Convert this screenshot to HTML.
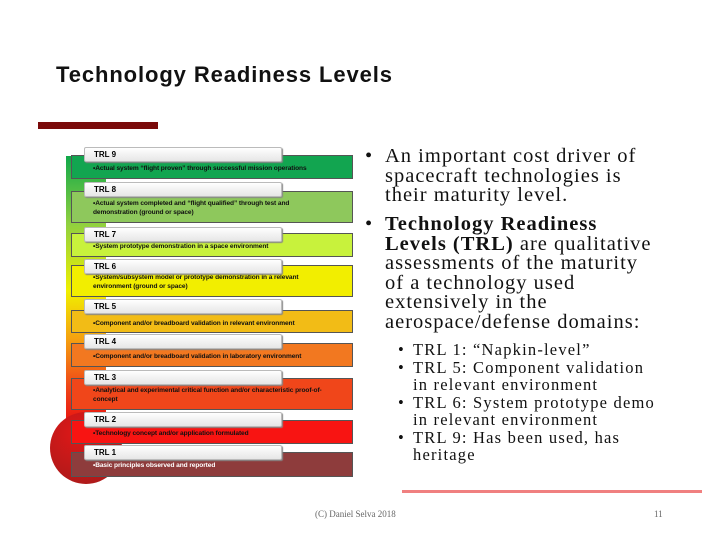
<!DOCTYPE html>
<html><head><meta charset="utf-8"><style>
body{margin:0;width:720px;height:540px;background:#fff;position:relative;overflow:hidden;font-family:"Liberation Sans",sans-serif}
.abs{position:absolute}
.box{position:absolute;left:71px;width:282px;border:1px solid #555;box-sizing:border-box;font-size:6.6px;font-weight:bold;color:#111;padding:0 0 0 21px;line-height:8.5px;letter-spacing:-0.1px}
.tab{position:absolute;left:84px;width:198px;height:15px;background:linear-gradient(#fff,#e6e6e6);border:1px solid #bbb;box-sizing:border-box;border-radius:2px;font-size:8px;font-weight:bold;padding-left:9px;line-height:13px;box-shadow:1px 1px 1px #888}
.r{font-family:"Liberation Serif",serif;font-size:20.5px;line-height:19.5px;color:#111;white-space:nowrap;letter-spacing:1px;padding-left:20px}
.s{font-family:"Liberation Serif",serif;font-size:16.5px;line-height:17.5px;color:#111;white-space:nowrap;letter-spacing:1.2px;padding-left:15px}
.b{position:absolute;left:0;top:0;letter-spacing:0}
</style></head><body>
<div class="abs" style="left:56px;top:62px;font-size:22px;letter-spacing:0.9px;font-weight:bold;color:#111">Technology Readiness Levels</div>
<div class="abs" style="left:38px;top:122px;width:120px;height:7px;background:#7a0a0a"></div>
<div class="abs" style="left:66px;top:156px;width:40px;height:270px;background:linear-gradient(#10a84a,#8fd040 25%,#f0f000 50%,#f5a010 68%,#f04818 85%,#e81010)"></div>
<div class="abs" style="left:50px;top:412px;width:72px;height:72px;border-radius:50%;background:radial-gradient(circle at 40% 30%,#e01818,#a01a1a)"></div>
<div id="levels"></div>
<div class="abs r" style="left:365px;top:147px"><span class="b">•</span>An important cost driver of<br>spacecraft technologies is<br>their maturity level.</div>
<div class="abs r" style="left:365px;top:215px"><span class="b">•</span><b>Technology Readiness</b><br><b>Levels (TRL)</b> are qualitative<br>assessments of the maturity<br>of a technology used<br>extensively in the<br>aerospace/defense domains:</div>
<div class="abs s" style="left:398px;top:341px"><span class="b">•</span>TRL 1: “Napkin-level”</div>
<div class="abs s" style="left:398px;top:358.5px"><span class="b">•</span>TRL 5: Component validation<br>in relevant environment</div>
<div class="abs s" style="left:398px;top:393.5px"><span class="b">•</span>TRL 6: System prototype demo<br>in relevant environment</div>
<div class="abs s" style="left:398px;top:428.5px"><span class="b">•</span>TRL 9: Has been used, has<br>heritage</div>
<div class="abs" style="left:402px;top:490px;width:300px;height:3px;background:#f08080"></div>
<div class="abs" style="left:315px;top:509px;font-family:'Liberation Serif',serif;font-size:9px;color:#666">(C) Daniel Selva 2018</div>
<div class="abs" style="left:654px;top:509px;font-family:'Liberation Serif',serif;font-size:9px;color:#666">11</div>
<script>
const labels=["TRL 9","TRL 8","TRL 7","TRL 6","TRL 5","TRL 4","TRL 3","TRL 2","TRL 1"];
const descs=["•Actual system “flight proven” through successful mission operations","•Actual system completed and “flight qualified” through test and demonstration (ground or space)","•System prototype demonstration in a space environment","•System/subsystem model or prototype demonstration in a relevant environment (ground or space)","•Component and/or breadboard validation in relevant environment","•Component and/or breadboard validation in laboratory environment","•Analytical and experimental critical function and/or characteristic proof-of-concept","•Technology concept and/or application formulated","•Basic principles observed and reported"];
const colors=["#12a550","#8ec85c","#c8f23c","#f2ee00","#f2bc16","#f27820","#f0461a","#f81412","#8e3c3c"];
const tops=[147,182,227,259,299,334,370,412,445];
const boxes=[[155,24],[191,32],[233,24],[265,32],[310,23],[343,24],[378,32],[420,24],[452,25]];
const c=document.getElementById('levels');
labels.forEach((l,i)=>{
 const b=document.createElement('div');b.className='box';
 
 
 b.style.top=boxes[i][0]+'px';b.style.height=boxes[i][1]+'px';b.style.background=colors[i];
 b.style.paddingTop=(boxes[i][1]>28?8:9)+'px';
 b.style.color=i==8?'#fff':'#111';
 b.innerHTML='<div style="width:232px">'+descs[i]+'</div>';
 c.appendChild(b);
 const t=document.createElement('div');t.className='tab';
 
 
 t.style.top=tops[i]+'px';t.textContent=l;c.appendChild(t);
});
</script>
</body></html>
